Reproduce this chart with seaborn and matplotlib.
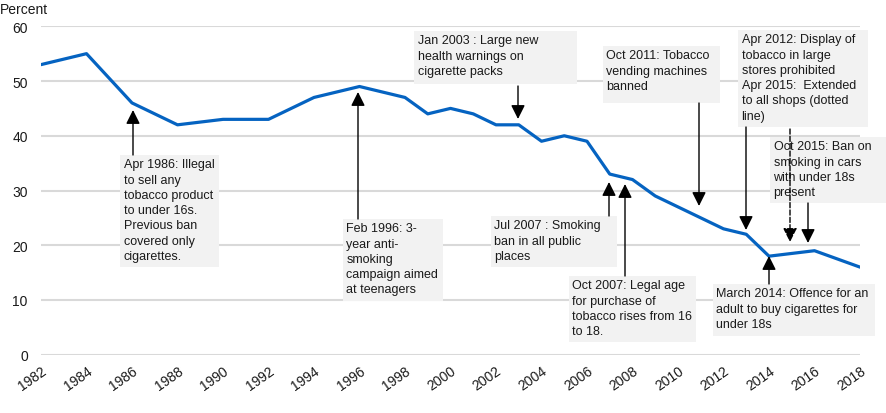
import matplotlib
matplotlib.use("Agg")
import matplotlib.pyplot as plt
import seaborn as sns
import pandas as pd
from matplotlib.patches import Rectangle
from matplotlib.transforms import IdentityTransform

# ---- data ----
years = [1982, 1984, 1986, 1988, 1990, 1992, 1994, 1996, 1998, 1999, 2000, 2001,
         2002, 2003, 2004, 2005, 2006, 2007, 2008, 2009, 2010, 2011, 2012, 2013,
         2014, 2016, 2018]
percent = [53, 55, 46, 42, 43, 43, 47, 49, 47, 44, 45, 44,
           42, 42, 39, 40, 39, 33, 32, 29, 27, 25, 23, 22,
           18, 19, 16]
x_ticks = list(range(1982, 2019, 2))
y_ticks = [0, 10, 20, 30, 40, 50, 60]
y_label = "Percent"

notes = [
    "Apr 1986: Illegal\nto sell any\ntobacco product\nto under 16s.\nPrevious ban\ncovered only\ncigarettes.",
    "Feb 1996: 3-\nyear anti-\nsmoking\ncampaign aimed\nat teenagers",
    "Jan 2003 : Large new\nhealth warnings on\ncigarette packs",
    "Jul 2007 : Smoking\nban in all public\nplaces",
    "Oct 2007: Legal age\nfor purchase of\ntobacco rises from 16\nto 18.",
    "Oct 2011: Tobacco\nvending machines\nbanned",
    "Apr 2012: Display of\ntobacco in large\nstores prohibited\nApr 2015:  Extended\nto all shops (dotted\nline)",
    "Oct 2015: Ban on\nsmoking in cars\nwith under 18s\npresent",
    "March 2014: Offence for an\nadult to buy cigarettes for\nunder 18s",
]

# ---- layout (image pixels, origin top-left) ----
W, H = 886, 414
boxes = [  # left, top, right, bottom
    (120, 156, 219, 268),
    (343, 220, 443, 302),
    (414, 32, 577, 85),
    (491, 217, 617, 268),
    (569, 277, 696, 343),
    (603, 47, 720, 104),
    (738, 31, 868, 128),
    (770, 138, 886, 204),
    (713, 285, 875, 337),
]
arrows = [  # x, tail y, tip y, dashed
    (133, 156, 111, False),
    (358, 220, 93, False),
    (518, 87, 120, False),
    (609, 217, 183, False),
    (625, 277, 185, False),
    (699, 104, 207, False),
    (746, 128, 231, False),
    (790, 130, 243, True),
    (808, 204, 244, False),
    (769, 285, 257, False),
]

sns.set_theme(style="white")
plt.rcParams["font.family"] = ["Liberation Sans", "DejaVu Sans"]

fig = plt.figure(figsize=(W / 100, H / 100), dpi=100)
ax_left, ax_right, ax_top, ax_bottom = 41, 860, 27.3, 355.7
ax = fig.add_axes([ax_left / W, 1 - ax_bottom / H, (ax_right - ax_left) / W,
                   (ax_bottom - ax_top) / H])

df = pd.DataFrame({"year": years, "pct": percent})
sns.lineplot(data=df, x="year", y="pct", ax=ax, color="#0563C1", lw=2.3, zorder=5)

ax.set_xlim(1982, 2018)
ax.set_ylim(0, 60)
ax.set_xticks(x_ticks)
ax.set_yticks(y_ticks)
ax.set_xlabel("")
ax.set_ylabel("")
for s in ax.spines.values():
    s.set_visible(False)
ax.grid(False)
ax.yaxis.grid(True, color="#d9d9d9", lw=1.5)
ax.set_axisbelow(True)
ax.tick_params(axis="y", length=0, pad=9.5, labelsize=10, labelcolor="#1a1a1a")
ax.tick_params(axis="x", length=0, pad=6, labelsize=10, labelcolor="#1a1a1a")
for lab in ax.get_xticklabels():
    lab.set_rotation(35)
    lab.set_ha("right")
    lab.set_rotation_mode("anchor")

fig.text(0 / W, 1 - 3 / H, y_label, ha="left", va="top", fontsize=10, color="#1a1a1a")

ident = IdentityTransform()
for (l, t, r, b), txt in zip(boxes, notes):
    rect = Rectangle((l, H - b), r - l, b - t, transform=ident, facecolor="#f2f2f2",
                     edgecolor="none", zorder=3, clip_on=False)
    ax.add_patch(rect)
    ax.text(l + 3.5, H - t - 3.5, txt, transform=ident, ha="left", va="top",
            fontsize=9, color="#1a1a1a", zorder=4, linespacing=1.36, clip_on=False)

for x, tail, tip, dashed in arrows:
    ax.annotate("", xy=(x, H - tip), xycoords="figure pixels",
                xytext=(x, H - tail), textcoords="figure pixels",
                arrowprops=dict(arrowstyle="-|>", color="black", lw=1,
                                ls="--" if dashed else "-", shrinkA=0, shrinkB=0,
                                mutation_scale=21), annotation_clip=False, zorder=6)

fig.savefig("out.png", dpi=100)
